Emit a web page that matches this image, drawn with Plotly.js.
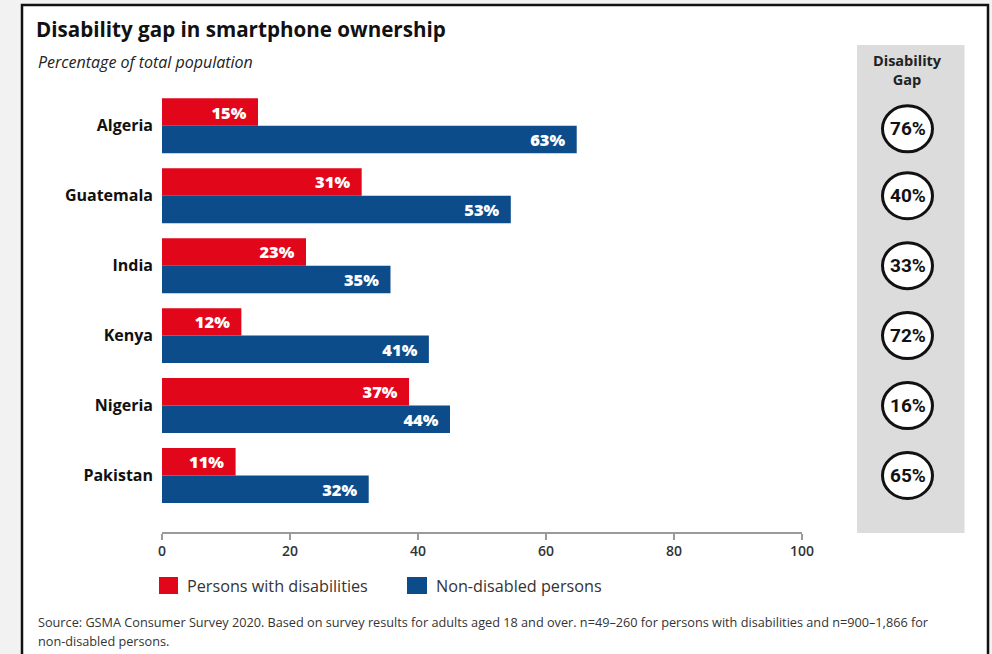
<!DOCTYPE html>
<html>
<head>
<meta charset="utf-8">
<script src="https://cdn.plot.ly/plotly-3.0.1.min.js"></script>
<style>html,body{margin:0;padding:0;background:#f2f2f2;}#chart{width:992px;height:654px;}</style>
</head>
<body>
<div id="chart"></div>
<script>
// ---- data ----
const countries = ["Algeria", "Guatemala", "India", "Kenya", "Nigeria", "Pakistan"];
const disabledLabels = [15, 31, 23, 12, 37, 11];            // printed %
const nonDisabledLabels = [63, 53, 35, 41, 44, 32];          // printed %
const disabledBars = [15.0, 31.2, 22.5, 12.4, 38.6, 11.5];   // drawn bar lengths
const nonDisabledBars = [64.8, 54.5, 35.7, 41.7, 45.0, 32.3];
const gapLabels = [76, 40, 33, 72, 16, 65];
const seriesNames = ["Persons with disabilities", "Non-disabled persons"];
const xTicks = [0, 20, 40, 60, 80, 100];

// ---- style ----
const RED = "#e2061b", BLUE = "#0d4c8b";
const FONT = "Open Sans, Liberation Sans, sans-serif";
const L = 162, R = 802, T = 90, B = 532;
const W = R - L, H = B - T;
const px = v => (v - L) / W;          // pixel x -> paper x
const py = v => (B - v) / H;          // pixel y -> paper y
const pad = "\u00a0\u00a0";

const traces = [
  {
    type: "bar", orientation: "h", name: seriesNames[0],
    y: countries, x: disabledBars,
    text: disabledLabels.map(v => v + "%" + pad),
    textposition: "inside", insidetextanchor: "end", constraintext: "none",
    textfont: {family: FONT, size: 16.5, color: "#ffffff", weight: 800},
    marker: {color: RED, line: {width: 0}},
    hoverinfo: "skip", showlegend: false
  },
  {
    type: "bar", orientation: "h", name: seriesNames[1],
    y: countries, x: nonDisabledBars,
    text: nonDisabledLabels.map(v => v + "%" + pad),
    textposition: "inside", insidetextanchor: "end", constraintext: "none",
    textfont: {family: FONT, size: 16.5, color: "#ffffff", weight: 800},
    marker: {color: BLUE, line: {width: 0}},
    hoverinfo: "skip", showlegend: false
  }
];

const shapes = [
  // outer frame
  {type: "rect", xref: "paper", yref: "paper", layer: "below",
   x0: px(22), x1: px(988), y0: py(668), y1: py(5),
   fillcolor: "#ffffff", line: {color: "#111111", width: 2.5}},
  // gap panel
  {type: "rect", xref: "paper", yref: "paper", layer: "below",
   x0: px(857), x1: px(964.5), y0: py(533), y1: py(45),
   fillcolor: "#dcdcdc", line: {width: 0}},
  // legend swatches
  {type: "rect", xref: "paper", yref: "paper",
   x0: px(159), x1: px(178), y0: py(594), y1: py(577),
   fillcolor: RED, line: {width: 0}},
  {type: "rect", xref: "paper", yref: "paper",
   x0: px(407), x1: px(427), y0: py(594), y1: py(577),
   fillcolor: BLUE, line: {width: 0}}
];

const annotations = [
  {xref: "paper", yref: "paper", x: px(36), y: py(62), xanchor: "left", yanchor: "middle",
   text: "<i>Percentage of total population</i>", showarrow: false,
   font: {family: FONT, size: 16, color: "#222"}},
  {xref: "paper", yref: "paper", x: px(907.5), y: py(70), xanchor: "center", yanchor: "middle",
   text: "<b>Disability<br>Gap</b>", showarrow: false, align: "center",
   font: {family: FONT, size: 14.5, color: "#222"}},
  {xref: "paper", yref: "paper", x: px(185), y: py(586), xanchor: "left", yanchor: "middle",
   text: seriesNames[0], showarrow: false, font: {family: FONT, size: 16.2, color: "#333"}},
  {xref: "paper", yref: "paper", x: px(434), y: py(586), xanchor: "left", yanchor: "middle",
   text: seriesNames[1], showarrow: false, font: {family: FONT, size: 16.2, color: "#333"}},
  {xref: "paper", yref: "paper", x: px(36), y: py(622), xanchor: "left", yanchor: "middle",
   align: "left", showarrow: false,
   text: "Source: GSMA Consumer Survey 2020. Based on survey results for adults aged 18 and over. n=49\u2013260 for persons with disabilities and n=900\u20131,866 for",
   font: {family: FONT, size: 12.7, color: "#333"}},
  {xref: "paper", yref: "paper", x: px(36), y: py(641), xanchor: "left", yanchor: "middle",
   align: "left", showarrow: false,
   text: "non-disabled persons.",
   font: {family: FONT, size: 12.7, color: "#333"}}
];

countries.forEach((c, i) => {
  shapes.push({type: "circle", xref: "paper", yref: "y",
    xsizemode: "pixel", ysizemode: "pixel",
    xanchor: px(907.5), yanchor: c,
    x0: -25, x1: 25, y0: -23 - (i === 0 ? 3 : 0), y1: 23 - (i === 0 ? 3 : 0),
    fillcolor: "#ffffff", line: {color: "#111111", width: 3}});
  annotations.push({xref: "paper", yref: "y", x: px(907.5), y: c,
    yshift: (i === 0 ? -3 : 0),
    xanchor: "center", yanchor: "middle", showarrow: false,
    text: "<b>" + gapLabels[i] + "%</b>",
    font: {family: "Roboto, sans-serif", size: 19, color: "#111"}});
});

const layout = {
  width: 992, height: 654,
  margin: {l: L, r: 992 - R, t: T, b: 654 - B, pad: 0},
  paper_bgcolor: "#f2f2f2", plot_bgcolor: "rgba(0,0,0,0)",
  title: {text: "<b>Disability gap in smartphone ownership</b>", x: 36 / 992, xanchor: "left",
          xref: "container", yref: "container", y: 1 - 30 / 654, yanchor: "middle",
          font: {family: FONT, size: 20.6, color: "#111"}},
  barmode: "group", bargap: 0.214, bargroupgap: 0,
  showlegend: false,
  xaxis: {range: [0, 100], tickvals: xTicks, ticktext: xTicks.map(String),
          showgrid: false, zeroline: false, showline: true, linecolor: "#9a9a9a", linewidth: 1.5,
          ticks: "outside", ticklen: 6, tickcolor: "#9a9a9a", tickwidth: 1.5,
          tickfont: {family: FONT, size: 14, color: "#333", weight: 600}, fixedrange: true},
  yaxis: {type: "category", range: [5 + (B - 475.5) / 69.94, -(125.8 - T) / 69.94],
          showgrid: false, zeroline: false, showline: false, ticks: "",
          ticklabelstandoff: 8,
          tickfont: {family: FONT, size: 16, color: "#111", weight: 700}, fixedrange: true},
  shapes: shapes, annotations: annotations
};

Plotly.newPlot("chart", traces, layout, {staticPlot: true, displayModeBar: false});
</script>
</body>
</html>
